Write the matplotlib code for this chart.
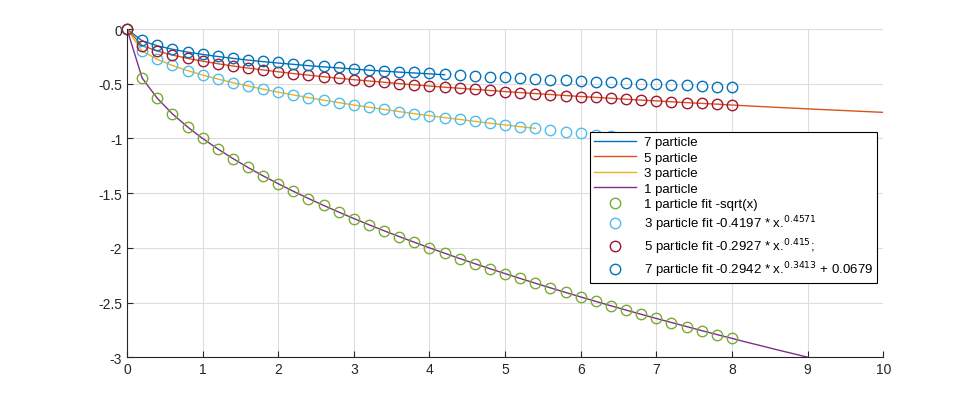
import matplotlib
matplotlib.use("Agg")
import matplotlib.pyplot as plt
import numpy as np

plt.rcParams['font.family'] = ['Liberation Sans', 'DejaVu Sans']

x = [round(0.2*i, 1) for i in range(41)]
fit1 = [0, .447, .632, .775, .894, 1, 1.095, 1.183, 1.265, 1.342, 1.414, 1.483, 1.549, 1.612, 1.673, 1.732,
        1.789, 1.844, 1.897, 1.949, 2, 2.049, 2.098, 2.145, 2.191, 2.236, 2.280, 2.324, 2.366, 2.408, 2.449,
        2.490, 2.530, 2.569, 2.608, 2.646, 2.683, 2.720, 2.757, 2.793, 2.828]
fit3 = [0, .201, .276, .332, .379, .420, .456, .489, .520, .549, .576, .602, .626, .650, .672, .694, .714,
        .734, .754, .773, .791, .809, .826, .843, .860, .876, .892, .907, .922, .937, .952, .967, .980, .994,
        1.008, 1.021, 1.035, 1.048, 1.061, 1.073, 1.086]
fit5 = [0, .150, .200, .237, .267, .293, .316, .337, .356, .373, .390, .406, .421, .435, .449, .462, .474,
        .486, .498, .509, .520, .531, .541, .551, .561, .571, .580, .589, .598, .607, .616, .624, .632, .641,
        .649, .656, .664, .672, .679, .686, .694]
fit7 = [None, .102, .147, .179, .205, .226, .245, .262, .278, .292, .305, .317, .329, .340, .350, .360, .370,
        .379, .388, .396, .404, .412, .420, .427, .435, .442, .449, .455, .462, .468, .474, .480, .486, .492,
        .498, .504, .509, .514, .520, .525, .530]

# simulation lines
line7_x = [0] + x[1:22]
line7_y = [0] + [-v - 0.005 for v in fit7[1:22]]
line5_x = x + [8.5, 9, 9.5, 10]
line5_y = [-v for v in fit5] + [-0.712, -0.729, -0.745, -0.761]
line3_x = x[:28]
line3_y = [-v for v in fit3[:28]]
line1_x = x + [8.2, 8.4, 8.6, 8.8, 9.0]
line1_y = [-v for v in fit1] + [-2.864, -2.898, -2.933, -2.966, -3.0]

fig = plt.figure(figsize=(9.77, 4.02), dpi=100)
ax = fig.add_axes([0.130, 0.109, 0.774, 0.816])

ax.plot(line7_x, line7_y, color='#0072BD', lw=1, label='7 particle')
ax.plot(line5_x, line5_y, color='#D95319', lw=1, label='5 particle')
ax.plot(line3_x, line3_y, color='#EDB120', lw=1, label='3 particle')
ax.plot(line1_x, line1_y, color='#7E2F8E', lw=1, label='1 particle')

ms = 7.5
ax.plot(x, [-v for v in fit1], 'o', mfc='none', mec='#77AC30', ms=ms, clip_on=False, label='1 particle fit -sqrt(x)')
ax.plot(x, [-v for v in fit3], 'o', mfc='none', mec='#4DBEEE', ms=ms, clip_on=False, label='3 particle fit -0.4197 * x.$^{0.4571}$')
ax.plot(x, [-v for v in fit5], 'o', mfc='none', mec='#A2142F', ms=ms, clip_on=False, label='5 particle fit -0.2927 * x.$^{0.415}$;')
ax.plot(x[1:], [-v for v in fit7[1:]], 'o', mfc='none', mec='#0072BD', ms=ms, clip_on=False,
        label='7 particle fit -0.2942 * x.$^{0.3413}$ + 0.0679')

ax.set_xlim(0, 10)
ax.set_ylim(-3, 0)
ax.set_xticks(range(11))
ax.set_yticks([-3, -2.5, -2, -1.5, -1, -0.5, 0])
ax.set_yticklabels(['-3', '-2.5', '-2', '-1.5', '-1', '-0.5', '0'])
ax.grid(True, color='#DDDDDD', lw=0.8)
ax.set_axisbelow(True)
for s in ['top', 'right']:
    ax.spines[s].set_visible(False)
for s in ['left', 'bottom']:
    ax.spines[s].set_color('#262626')
ax.tick_params(direction='in', labelsize=10, colors='#262626', length=4)

leg = ax.legend(loc='upper left', bbox_to_anchor=(0.612, 0.686), fontsize=9.5, fancybox=False,
                edgecolor='black', framealpha=1, borderpad=0.3, labelspacing=0.25, handlelength=3.2,
                handletextpad=0.6, borderaxespad=0)
leg.get_frame().set_linewidth(0.8)
leg.set_zorder(5)

fig.savefig('out.png', dpi=100)
